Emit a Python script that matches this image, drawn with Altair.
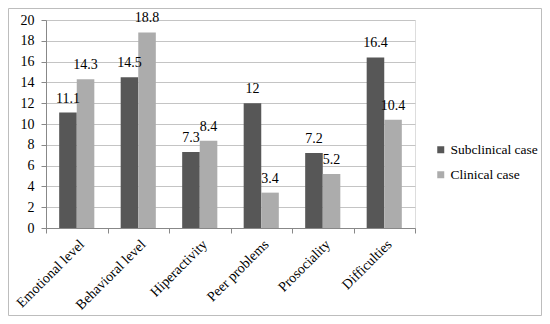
import altair as alt
import pandas as pd

categories = ["Emotional level", "Behavioral level", "Hiperactivity", "Peer problems", "Prosociality", "Difficulties"]
series = ["Subclinical case", "Clinical case"]
subclinical = [11.1, 14.5, 7.3, 12, 7.2, 16.4]
clinical = [14.3, 18.8, 8.4, 3.4, 5.2, 10.4]
colors = ["#575757", "#acacac"]

rows = []
for i, c in enumerate(categories):
    for s, vals in zip(series, [subclinical, clinical]):
        v = vals[i]
        rows.append({"category": c, "series": s, "value": v,
                     "label": (str(int(v)) if float(v).is_integer() else str(v))})
df = pd.DataFrame(rows)

FONT = "Liberation Serif"

x = alt.X("category:N", sort=categories, title=None,
          scale=alt.Scale(paddingInner=0, paddingOuter=0),
          axis=alt.Axis(labelAngle=-45, tickBand="extent", labelFontSize=14,
                        labelFont=FONT, labelColor="#000", domainColor="#888",
                        tickColor="#888", tickSize=5, labelPadding=4, grid=False,
                        labelOverlap=False))
xo = alt.XOffset("series:N", sort=series,
                 scale=alt.Scale(paddingOuter=0.75, paddingInner=0))
y = alt.Y("value:Q", title=None, scale=alt.Scale(domain=[0, 20], nice=False),
          axis=alt.Axis(values=list(range(0, 21, 2)), labelFontSize=14, labelFont=FONT,
                        labelColor="#000", domainColor="#888", tickColor="#888",
                        gridColor="#c4c4c4", tickSize=5, labelPadding=7,
                        labelOverlap=False))

bars = alt.Chart(df).mark_bar().encode(
    x=x, xOffset=xo, y=y,
    color=alt.Color("series:N", sort=series,
                    scale=alt.Scale(domain=series, range=colors),
                    legend=alt.Legend(title=None, orient="none", legendX=388, legendY=123,
                                      symbolType="square", symbolSize=49,
                                      symbolStrokeWidth=0, labelFont=FONT,
                                      labelFontSize=13.5, labelColor="#000",
                                      rowPadding=10, labelOffset=3)),
)

texts = alt.Chart(df).mark_text(baseline="bottom", dy=-7, fontSize=14, font=FONT,
                                color="#000").encode(
    x=x, xOffset=xo, y=y, text="label:N")

border = alt.Chart(pd.DataFrame({"a": [0]})).mark_rect(
    fill=None, stroke="#bdbdbd", strokeWidth=1).encode(
    x=alt.value(-37.5), x2=alt.value(495.5), y=alt.value(-11.5), y2=alt.value(295.5))

chart = alt.layer(bars, texts, border).properties(
    width=369, height=208,
    autosize=alt.AutoSizeParams(type="none"),
    padding={"left": 38, "top": 12, "right": 127, "bottom": 88},
).configure_view(stroke=None).configure(background="white", font=FONT)

chart.save("out.html", embed_options={"renderer": "svg", "actions": False})
